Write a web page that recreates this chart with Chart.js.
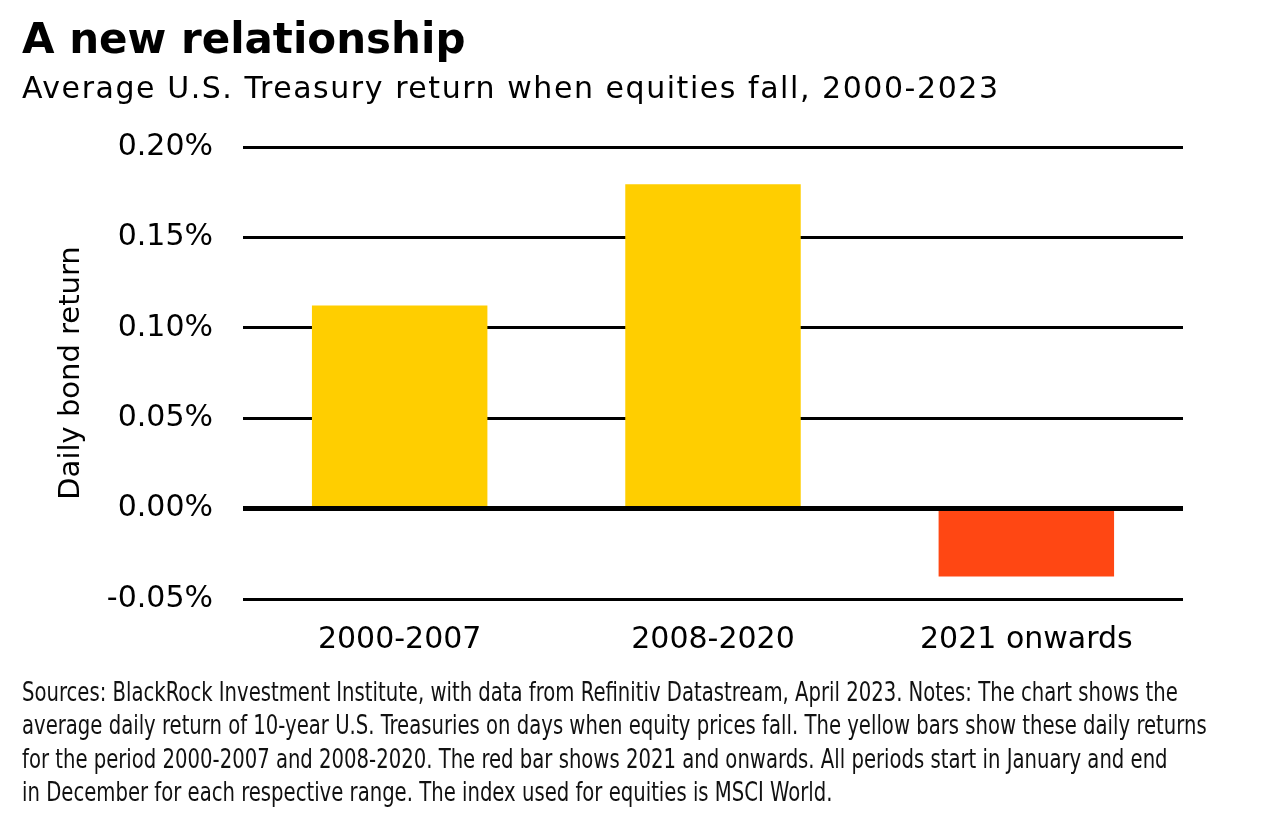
<!DOCTYPE html>
<html>
<head>
<meta charset="utf-8">
<script src="https://cdn.jsdelivr.net/npm/chart.js@4"></script>
<style>
  body { margin: 0; background: #fff; width: 1264px; height: 828px; overflow: hidden; }
  #wrap { position: absolute; left: 0; top: 0; width: 1264px; height: 828px; }
  .title { position: absolute; left: 22px; top: 17px; font: bold 42px/43px "DejaVu Sans", sans-serif; color: #000; white-space: nowrap; }
  .subtitle { position: absolute; left: 22px; top: 73px; font: 30px/30px "DejaVu Sans", sans-serif; letter-spacing: 1.55px; color: #000; white-space: nowrap; }
  .notes { position: absolute; left: 22px; top: 676px; font: 26px/33.3px "DejaVu Sans Condensed", sans-serif; color: #111; transform: scaleX(0.84); transform-origin: left top; }
  .notes div { white-space: nowrap; }
</style>
</head>
<body>
<div id="wrap"><canvas id="chart" width="1264" height="828"></canvas></div>
<div class="title">A new relationship</div>
<div class="subtitle">Average U.S. Treasury return when equities fall, 2000-2023</div>
<div class="notes">
  <div>Sources: BlackRock Investment Institute, with data from Refinitiv Datastream, April 2023. Notes: The chart shows the</div>
  <div>average daily return of 10-year U.S. Treasuries on days when equity prices fall. The yellow bars show these daily returns</div>
  <div>for the period 2000-2007 and 2008-2020. The red bar shows 2021 and onwards. All periods start in January and end</div>
  <div>in December for each respective range. The index used for equities is MSCI World.</div>
</div>
<script>
// Données (rendement journalier moyen, en %)
const periodes = ['2000-2007', '2008-2020', '2021 onwards'];
const rendements = [0.1124, 0.1794, -0.0375];
const ticksY = [-0.05, 0, 0.05, 0.10, 0.15, 0.20];

const jaune = '#FFCE00';
const rouge = '#FF4713';
const police = '"DejaVu Sans", sans-serif';

// Ligne du zéro dessinée par-dessus les barres
const ligneZero = {
    id: 'ligneZero',
    afterDatasetsDraw(chart) {
        const { ctx, chartArea, scales } = chart;
        const y = scales.y.getPixelForValue(0);
        ctx.save();
        ctx.strokeStyle = '#000';
        ctx.lineWidth = 5;
        ctx.beginPath();
        ctx.moveTo(chartArea.left, y);
        ctx.lineTo(chartArea.right, y);
        ctx.stroke();
        ctx.restore();
    }
};

new Chart(document.getElementById('chart'), {
    type: 'bar',
    data: {
        labels: periodes,
        datasets: [{
            data: rendements,
            backgroundColor: rendements.map(v => v < 0 ? rouge : jaune),
            borderWidth: 0,
            categoryPercentage: 1,
            barPercentage: 0.56
        }]
    },
    options: {
        responsive: false,
        animation: false,
        devicePixelRatio: 1,
        layout: { padding: { top: 147, left: 50, right: 81, bottom: 149 } },
        plugins: {
            legend: { display: false },
            tooltip: { enabled: false }
        },
        scales: {
            x: {
                grid: { display: false, drawTicks: false },
                border: { display: false },
                ticks: { color: '#000', font: { family: police, size: 30 }, padding: 23, maxRotation: 0 },
                afterFit: (scale) => { scale.height = 80; }
            },
            y: {
                min: ticksY[0],
                max: ticksY[ticksY.length - 1],
                afterBuildTicks: (scale) => { scale.ticks = ticksY.map(v => ({ value: v })); },
                grid: {
                    color: '#000',
                    drawTicks: false,
                    lineWidth: (c) => Math.abs(c.tick.value) < 1e-9 ? 5 : 3
                },
                border: { display: false },
                ticks: {
                    color: '#000',
                    font: { family: police, size: 30 },
                    padding: 30,
                    callback: (v) => (Math.abs(v) < 1e-9 ? 0 : v).toFixed(2) + '%'
                },
                title: {
                    display: true,
                    text: 'Daily bond return',
                    color: '#000',
                    font: { family: police, size: 29 }
                },
                afterFit: (scale) => { scale.width = 193; }
            }
        }
    },
    plugins: [ligneZero]
});
</script>
</body>
</html>
